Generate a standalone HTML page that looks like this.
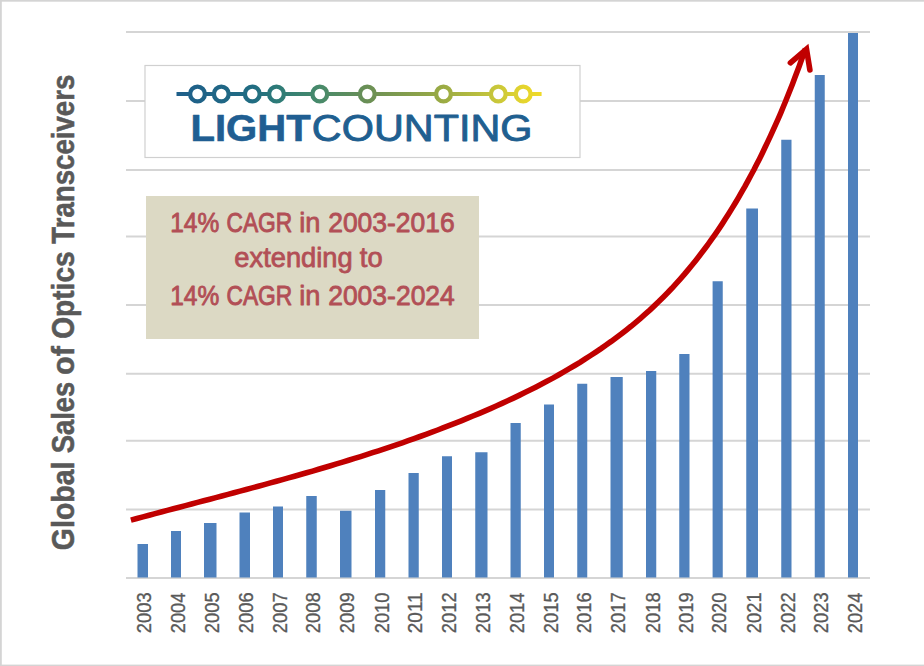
<!DOCTYPE html><html><head><meta charset="utf-8"><title>chart</title>
<style>html,body{margin:0;padding:0;background:#fff}svg{display:block}text{font-family:"Liberation Sans",sans-serif}</style></head><body>
<svg width="924" height="666" viewBox="0 0 924 666">
<defs><linearGradient id="lg" gradientUnits="userSpaceOnUse" x1="176" y1="0" x2="542" y2="0"><stop offset="0" stop-color="#1e5f8a"/><stop offset="0.06" stop-color="#1f6288"/><stop offset="0.21" stop-color="#206c82"/><stop offset="0.275" stop-color="#2d7b78"/><stop offset="0.393" stop-color="#488a6a"/><stop offset="0.522" stop-color="#6a8f56"/><stop offset="0.731" stop-color="#9bab44"/><stop offset="0.88" stop-color="#cac83a"/><stop offset="0.948" stop-color="#e4d42e"/><stop offset="1" stop-color="#f0da28"/></linearGradient></defs>
<rect x="0" y="0" width="924" height="666" fill="#fff"/>
<rect x="0" y="0" width="924" height="1.7" fill="#d4d4d4"/>
<rect x="0" y="0" width="1.8" height="666" fill="#d4d4d4"/>
<rect x="0" y="664.6" width="924" height="1.4" fill="#d4d4d4"/>
<rect x="126" y="31" width="744" height="2" fill="#d5d5d5"/>
<rect x="126" y="100" width="744" height="2" fill="#d5d5d5"/>
<rect x="126" y="169" width="744" height="2" fill="#d5d5d5"/>
<rect x="126" y="235.5" width="744" height="2" fill="#d5d5d5"/>
<rect x="126" y="304" width="744" height="2" fill="#d5d5d5"/>
<rect x="126" y="372.75" width="744" height="2" fill="#d5d5d5"/>
<rect x="126" y="439.75" width="744" height="2" fill="#d5d5d5"/>
<rect x="126" y="508.5" width="744" height="2" fill="#d5d5d5"/>
<rect x="126" y="577" width="744" height="2" fill="#d5d5d5"/>
<rect x="137.5" y="544" width="10.50" height="33.50" fill="#4f81bd"/>
<rect x="171" y="531" width="10.00" height="46.50" fill="#4f81bd"/>
<rect x="204" y="523" width="12.50" height="54.50" fill="#4f81bd"/>
<rect x="239.5" y="512.5" width="10.50" height="65.00" fill="#4f81bd"/>
<rect x="273" y="506.5" width="10.00" height="71.00" fill="#4f81bd"/>
<rect x="306.25" y="496" width="10.50" height="81.50" fill="#4f81bd"/>
<rect x="340" y="510.75" width="11.50" height="66.75" fill="#4f81bd"/>
<rect x="375" y="490" width="10.25" height="87.50" fill="#4f81bd"/>
<rect x="408.5" y="473" width="10.25" height="104.50" fill="#4f81bd"/>
<rect x="442" y="456.25" width="10.00" height="121.25" fill="#4f81bd"/>
<rect x="475.25" y="452.25" width="12.25" height="125.25" fill="#4f81bd"/>
<rect x="510.5" y="423" width="10.25" height="154.50" fill="#4f81bd"/>
<rect x="544" y="404.5" width="10.00" height="173.00" fill="#4f81bd"/>
<rect x="577.25" y="383.75" width="10.00" height="193.75" fill="#4f81bd"/>
<rect x="610.5" y="377" width="12.25" height="200.50" fill="#4f81bd"/>
<rect x="646" y="371" width="10.25" height="206.50" fill="#4f81bd"/>
<rect x="679.25" y="354" width="10.25" height="223.50" fill="#4f81bd"/>
<rect x="712.6" y="281.25" width="10.15" height="296.25" fill="#4f81bd"/>
<rect x="746.25" y="208.5" width="11.75" height="369.00" fill="#4f81bd"/>
<rect x="781.25" y="139.75" width="10.25" height="437.75" fill="#4f81bd"/>
<rect x="814.75" y="75" width="10.00" height="502.50" fill="#4f81bd"/>
<rect x="848" y="33" width="10.00" height="544.50" fill="#4f81bd"/>
<rect x="145" y="65.5" width="435" height="92" fill="#fff" stroke="#d0d0d0" stroke-width="1.2"/>
<line x1="176.5" y1="94" x2="541.6" y2="94" stroke="url(#lg)" stroke-width="3.8"/>
<circle cx="197.5" cy="94" r="7.4" fill="#fff" stroke="url(#lg)" stroke-width="4.3"/>
<circle cx="221.3" cy="94" r="7.4" fill="#fff" stroke="url(#lg)" stroke-width="4.3"/>
<circle cx="252.3" cy="94" r="7.4" fill="#fff" stroke="url(#lg)" stroke-width="4.3"/>
<circle cx="276.5" cy="94" r="7.4" fill="#fff" stroke="url(#lg)" stroke-width="4.3"/>
<circle cx="319.8" cy="94" r="7.4" fill="#fff" stroke="url(#lg)" stroke-width="4.3"/>
<circle cx="367.3" cy="94" r="7.4" fill="#fff" stroke="url(#lg)" stroke-width="4.3"/>
<circle cx="443.5" cy="94" r="7.4" fill="#fff" stroke="url(#lg)" stroke-width="4.3"/>
<circle cx="498.3" cy="94" r="7.4" fill="#fff" stroke="url(#lg)" stroke-width="4.3"/>
<circle cx="523.2" cy="94" r="7.4" fill="#fff" stroke="url(#lg)" stroke-width="4.3"/>
<rect x="146" y="196" width="333" height="143" fill="#dcd9c4"/>
<text transform="translate(170.17 231.70) scale(0.9166 1)" font-size="26.74" font-weight="normal" fill="#b24f56" stroke="#b24f56" stroke-width="0.87" stroke-linejoin="round">14%</text>
<text transform="translate(226.53 231.70) scale(0.8510 1)" font-size="26.74" font-weight="normal" fill="#b24f56" stroke="#b24f56" stroke-width="0.94" stroke-linejoin="round">CAGR</text>
<text transform="translate(299.29 231.70) scale(1.0203 1)" font-size="26.74" font-weight="normal" fill="#b24f56" stroke="#b24f56" stroke-width="0.78" stroke-linejoin="round">in</text>
<text transform="translate(328.16 231.70) scale(0.9900 1)" font-size="26.74" font-weight="normal" fill="#b24f56" stroke="#b24f56" stroke-width="0.81" stroke-linejoin="round">2003-2016</text>
<text transform="translate(170.17 304.80) scale(0.9166 1)" font-size="26.74" font-weight="normal" fill="#b24f56" stroke="#b24f56" stroke-width="0.87" stroke-linejoin="round">14%</text>
<text transform="translate(226.53 304.80) scale(0.8510 1)" font-size="26.74" font-weight="normal" fill="#b24f56" stroke="#b24f56" stroke-width="0.94" stroke-linejoin="round">CAGR</text>
<text transform="translate(299.29 304.80) scale(1.0203 1)" font-size="26.74" font-weight="normal" fill="#b24f56" stroke="#b24f56" stroke-width="0.78" stroke-linejoin="round">in</text>
<text transform="translate(328.16 304.80) scale(0.9907 1)" font-size="26.74" font-weight="normal" fill="#b24f56" stroke="#b24f56" stroke-width="0.81" stroke-linejoin="round">2003-2024</text>
<text transform="translate(234.35 266.70) scale(1.0207 1)" font-size="26.74" font-weight="normal" fill="#b24f56" stroke="#b24f56" stroke-width="0.78" stroke-linejoin="round">extending</text>
<text transform="translate(359.80 266.70) scale(1.0226 1)" font-size="26.74" font-weight="normal" fill="#b24f56" stroke="#b24f56" stroke-width="0.78" stroke-linejoin="round">to</text>
<text transform="translate(190.49 141.40) scale(1.0610 1)" font-size="37.79" font-weight="bold" fill="#205e92" stroke="#205e92" stroke-width="0.57" stroke-linejoin="round">LIGHT</text>
<text transform="translate(311.86 141.40) scale(1.0952 1)" font-size="37.79" font-weight="normal" fill="#1f5f90" stroke="#1f5f90" stroke-width="0.91" stroke-linejoin="round">COUNTING</text>
<text transform="translate(74.20 550.14) rotate(-90) scale(0.8903 1)" font-size="31.98" font-weight="bold" fill="#595959" stroke="#595959" stroke-width="0.56" stroke-linejoin="round">Global</text>
<text transform="translate(74.20 453.28) rotate(-90) scale(0.8573 1)" font-size="31.98" font-weight="bold" fill="#595959" stroke="#595959" stroke-width="0.58" stroke-linejoin="round">Sales</text>
<text transform="translate(74.20 375.00) rotate(-90) scale(0.9551 1)" font-size="31.98" font-weight="bold" fill="#595959" stroke="#595959" stroke-width="0.52" stroke-linejoin="round">of</text>
<text transform="translate(74.20 338.73) rotate(-90) scale(0.8785 1)" font-size="31.98" font-weight="bold" fill="#595959" stroke="#595959" stroke-width="0.57" stroke-linejoin="round">Optics</text>
<text transform="translate(74.20 243.65) rotate(-90) scale(0.8643 1)" font-size="31.98" font-weight="bold" fill="#595959" stroke="#595959" stroke-width="0.58" stroke-linejoin="round">Transceivers</text>
<text transform="translate(151.35 633.21) rotate(-90) scale(0.8887 1)" font-size="20.64" font-weight="normal" fill="#595959" stroke="#595959" stroke-width="0.34" stroke-linejoin="round">2003</text>
<text transform="translate(184.60 633.20) rotate(-90) scale(0.8822 1)" font-size="20.64" font-weight="normal" fill="#595959" stroke="#595959" stroke-width="0.34" stroke-linejoin="round">2004</text>
<text transform="translate(218.85 633.21) rotate(-90) scale(0.8887 1)" font-size="20.64" font-weight="normal" fill="#595959" stroke="#595959" stroke-width="0.34" stroke-linejoin="round">2005</text>
<text transform="translate(253.35 633.21) rotate(-90) scale(0.8887 1)" font-size="20.64" font-weight="normal" fill="#595959" stroke="#595959" stroke-width="0.34" stroke-linejoin="round">2006</text>
<text transform="translate(286.60 633.21) rotate(-90) scale(0.8887 1)" font-size="20.64" font-weight="normal" fill="#595959" stroke="#595959" stroke-width="0.34" stroke-linejoin="round">2007</text>
<text transform="translate(320.10 633.21) rotate(-90) scale(0.8887 1)" font-size="20.64" font-weight="normal" fill="#595959" stroke="#595959" stroke-width="0.34" stroke-linejoin="round">2008</text>
<text transform="translate(354.35 633.21) rotate(-90) scale(0.8887 1)" font-size="20.64" font-weight="normal" fill="#595959" stroke="#595959" stroke-width="0.34" stroke-linejoin="round">2009</text>
<text transform="translate(388.72 633.20) rotate(-90) scale(0.8822 1)" font-size="20.64" font-weight="normal" fill="#595959" stroke="#595959" stroke-width="0.34" stroke-linejoin="round">2010</text>
<text transform="translate(422.22 633.24) rotate(-90) scale(0.9206 1)" font-size="20.64" font-weight="normal" fill="#595959" stroke="#595959" stroke-width="0.33" stroke-linejoin="round">2011</text>
<text transform="translate(455.60 633.21) rotate(-90) scale(0.8887 1)" font-size="20.64" font-weight="normal" fill="#595959" stroke="#595959" stroke-width="0.34" stroke-linejoin="round">2012</text>
<text transform="translate(489.97 633.21) rotate(-90) scale(0.8887 1)" font-size="20.64" font-weight="normal" fill="#595959" stroke="#595959" stroke-width="0.34" stroke-linejoin="round">2013</text>
<text transform="translate(524.23 633.20) rotate(-90) scale(0.8822 1)" font-size="20.64" font-weight="normal" fill="#595959" stroke="#595959" stroke-width="0.34" stroke-linejoin="round">2014</text>
<text transform="translate(557.60 633.21) rotate(-90) scale(0.8887 1)" font-size="20.64" font-weight="normal" fill="#595959" stroke="#595959" stroke-width="0.34" stroke-linejoin="round">2015</text>
<text transform="translate(590.85 633.21) rotate(-90) scale(0.8887 1)" font-size="20.64" font-weight="normal" fill="#595959" stroke="#595959" stroke-width="0.34" stroke-linejoin="round">2016</text>
<text transform="translate(625.23 633.21) rotate(-90) scale(0.8887 1)" font-size="20.64" font-weight="normal" fill="#595959" stroke="#595959" stroke-width="0.34" stroke-linejoin="round">2017</text>
<text transform="translate(659.73 633.21) rotate(-90) scale(0.8887 1)" font-size="20.64" font-weight="normal" fill="#595959" stroke="#595959" stroke-width="0.34" stroke-linejoin="round">2018</text>
<text transform="translate(692.98 633.21) rotate(-90) scale(0.8887 1)" font-size="20.64" font-weight="normal" fill="#595959" stroke="#595959" stroke-width="0.34" stroke-linejoin="round">2019</text>
<text transform="translate(726.27 633.20) rotate(-90) scale(0.8822 1)" font-size="20.64" font-weight="normal" fill="#595959" stroke="#595959" stroke-width="0.34" stroke-linejoin="round">2020</text>
<text transform="translate(760.73 633.21) rotate(-90) scale(0.8887 1)" font-size="20.64" font-weight="normal" fill="#595959" stroke="#595959" stroke-width="0.34" stroke-linejoin="round">2021</text>
<text transform="translate(794.98 633.21) rotate(-90) scale(0.8887 1)" font-size="20.64" font-weight="normal" fill="#595959" stroke="#595959" stroke-width="0.34" stroke-linejoin="round">2022</text>
<text transform="translate(828.35 633.21) rotate(-90) scale(0.8887 1)" font-size="20.64" font-weight="normal" fill="#595959" stroke="#595959" stroke-width="0.34" stroke-linejoin="round">2023</text>
<text transform="translate(861.60 633.20) rotate(-90) scale(0.8822 1)" font-size="20.64" font-weight="normal" fill="#595959" stroke="#595959" stroke-width="0.34" stroke-linejoin="round">2024</text>
<path d="M130.9 520.1 L136.9 518.5 L143.0 516.9 L149.1 515.2 L155.1 513.6 L161.2 512.0 L167.3 510.4 L173.4 508.8 L179.4 507.2 L185.5 505.6 L191.6 504.0 L197.6 502.4 L203.7 500.8 L209.8 499.2 L215.8 497.6 L221.9 496.0 L228.0 494.4 L234.0 492.7 L240.1 491.1 L246.2 489.5 L252.2 487.9 L258.3 486.2 L264.3 484.6 L270.4 482.9 L276.4 481.3 L282.4 479.6 L288.5 477.9 L294.5 476.2 L300.5 474.5 L306.6 472.8 L312.6 471.1 L318.6 469.3 L324.6 467.5 L330.6 465.7 L336.6 463.9 L342.6 462.1 L348.6 460.3 L354.6 458.4 L360.6 456.6 L366.6 454.7 L372.5 452.7 L378.5 450.8 L384.4 448.8 L390.4 446.8 L396.3 444.8 L402.3 442.8 L408.2 440.7 L414.1 438.6 L420.0 436.5 L426.0 434.3 L431.9 432.2 L437.7 430.0 L443.6 427.7 L449.5 425.4 L455.4 423.1 L461.2 420.8 L467.1 418.4 L472.9 416.0 L478.8 413.6 L484.6 411.1 L490.4 408.6 L496.2 406.0 L502.0 403.4 L507.7 400.8 L513.4 398.1 L519.1 395.4 L524.8 392.6 L530.5 389.8 L536.1 386.9 L541.7 384.0 L547.3 381.1 L552.9 378.1 L558.4 375.0 L563.8 371.9 L569.3 368.7 L574.7 365.5 L580.0 362.3 L585.3 358.9 L590.6 355.5 L595.8 352.1 L601.0 348.6 L606.1 345.0 L611.2 341.4 L616.2 337.7 L621.2 334.0 L626.1 330.2 L631.0 326.3 L635.8 322.3 L640.5 318.3 L645.2 314.2 L649.8 310.1 L654.3 305.9 L658.8 301.6 L663.2 297.2 L667.6 292.8 L671.9 288.3 L676.1 283.7 L680.2 279.1 L684.3 274.4 L688.3 269.6 L692.3 264.8 L696.2 259.9 L700.0 255.0 L703.8 250.0 L707.6 245.0 L711.2 239.9 L714.8 234.8 L718.4 229.6 L721.9 224.4 L725.3 219.1 L728.7 213.8 L732.0 208.4 L735.3 203.0 L738.5 197.6 L741.6 192.1 L744.8 186.6 L747.8 181.1 L750.8 175.5 L753.8 170.0 L756.7 164.3 L759.6 158.7 L762.4 153.0 L765.1 147.3 L767.8 141.6 L770.5 135.9 L773.1 130.1 L775.7 124.4 L778.3 118.6 L780.8 112.8 L783.2 107.0 L785.6 101.2 L788.0 95.3 L790.3 89.5 L792.6 83.7 L794.8 77.8 L797.0 72.0 L799.2 66.2 L801.3 60.3 L803.4 54.5 L805.5 48.7" fill="none" stroke="#c00000" stroke-width="5.6" stroke-linejoin="round" stroke-linecap="butt"/>
<path d="M790.4 62.8 L806.5 49.0 L809.9 70.0" fill="none" stroke="#c00000" stroke-width="5.6" stroke-linejoin="miter" stroke-miterlimit="6" stroke-linecap="round"/>
</svg></body></html>
